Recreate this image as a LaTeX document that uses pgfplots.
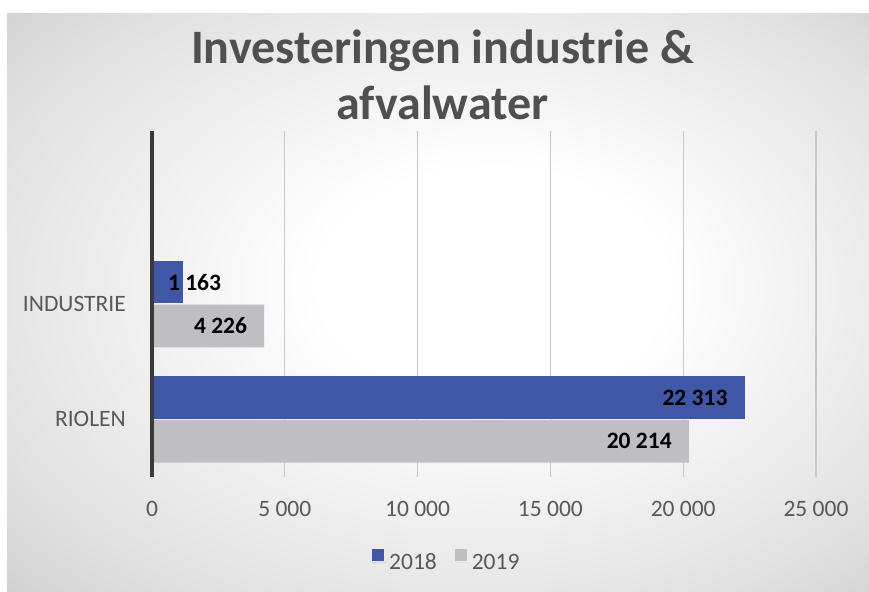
\documentclass[border=0pt]{standalone}
\usepackage{fontspec}
\setmainfont{Carlito}
\usepackage{pgfplots}
\pgfplotsset{compat=1.18}
\definecolor{c2018}{HTML}{3F57A6}
\definecolor{c2019}{HTML}{BFBFC3}
\definecolor{txt}{HTML}{595959}
\definecolor{ttl}{HTML}{505050}
\definecolor{axl}{HTML}{3A3A3A}
\definecolor{grd}{HTML}{C8C8C8}
\newcommand\lbl{\fontsize{23.5bp}{28bp}\selectfont}
\pgfdeclareradialshading{bgshade}{\pgfpoint{4bp}{2bp}}{color(0bp)=(white); color(10bp)=(white); color(30bp)=(black!12); color(40bp)=(black!21); color(50bp)=(black!21)}
\begin{document}
\begin{tikzpicture}
\path[use as bounding box, fill=white] (0bp,0bp) rectangle (869bp,-592bp);
\shade[shading=bgshade] (7bp,-13bp) rectangle (869bp,-592bp);
\node[anchor=base, font=\fontsize{48bp}{56bp}\selectfont\bfseries, text=ttl, inner sep=0pt] at (442.5bp,-63bp) {Investeringen industrie \&};
\node[anchor=base, font=\fontsize{48bp}{56bp}\selectfont\bfseries, text=ttl, inner sep=0pt] at (442.5bp,-119bp) {afvalwater};
\begin{axis}[
  at={(152bp,-477bp)}, anchor=south west, scale only axis,
  width=664bp, height=346bp,
  clip=false,
  xbar, xmin=0, xmax=25000, ymin=-0.5, ymax=2.5,
  xtick={0,5000,10000,15000,20000,25000},
  ytick={0,1}, yticklabels={RIOLEN,INDUSTRIE},
  scaled x ticks=false,
  /pgf/number format/1000 sep={\ },
  /pgf/number format/assume math mode=true,
  axis line style={draw=none},
  major tick length=0pt,
  xmajorgrids, grid style={grd, line width=1.3bp},
  ticklabel style={font=\lbl, text=txt, inner sep=0pt},
  xticklabel style={anchor=north, yshift=-24bp},
  yticklabel style={anchor=east, xshift=-26bp},
  bar width=0.37,
  point meta=x,
  nodes near coords={\pgfmathprintnumber{\pgfplotspointmeta}},
  nodes near coords style={font=\lbl\bfseries, text=black, anchor=east, xshift=-17bp, inner sep=0pt},
  legend columns=2,
  legend style={draw=none, fill=none, at={(axis description cs:0.444,-0.243)}, anchor=center, font=\lbl, text=txt,
    /tikz/every even column/.append style={column sep=16bp}},
  legend image code/.code={\fill[#1] (0bp,1.5bp) rectangle (12bp,13.5bp); \path (0bp,0bp) -- (15bp,0bp);},
]
\addplot[fill=c2018, draw=none, bar shift=0.19]
  coordinates {(22313,0)};
\addplot[fill=c2019, draw=none, bar shift=-0.19]
  coordinates {(20214,0) (4226,1)};
\addplot[fill=c2018, draw=none, bar shift=0.19, forget plot,
  nodes near coords style={anchor=west, xshift=2bp}]
  coordinates {(1163,1)};
\legend{2018,2019}
\draw[axl, line width=4bp] (axis cs:0,-0.5) -- (axis cs:0,2.5);
\end{axis}
\end{tikzpicture}
\end{document}
